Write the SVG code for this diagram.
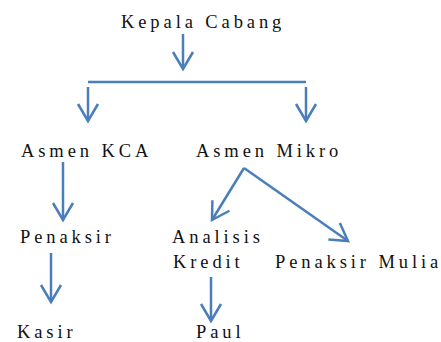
<svg xmlns="http://www.w3.org/2000/svg" width="441" height="342" viewBox="0 0 441 342">
<style>
  .lbl { font-family: "Liberation Serif", "Times New Roman", "DejaVu Serif", serif; font-size: 18.5px; letter-spacing: 3.9px; fill: #111; }
  .conn { stroke: #4A7EBB; stroke-width: 2.5; fill: none; }
</style>
<defs>
  <marker id="chev" markerUnits="userSpaceOnUse" markerWidth="40" markerHeight="40" viewBox="-20 -20 40 40" refX="0" refY="0" orient="auto" overflow="visible">
    <path d="M -17,-10 L 0,0 L -17,10" fill="none" stroke="#4A7EBB" stroke-width="2.5" stroke-linejoin="miter"/>
  </marker>
</defs>
<rect width="441" height="342" fill="#ffffff"/>
<g id="connectors">
  <line class="conn" x1="183" y1="34" x2="183" y2="69" marker-end="url(#chev)"/>
  <line class="conn" x1="88" y1="82" x2="306" y2="82"/>
  <line class="conn" x1="88" y1="87" x2="88" y2="121" marker-end="url(#chev)"/>
  <line class="conn" x1="306" y1="87" x2="306" y2="121" marker-end="url(#chev)"/>
  <line class="conn" x1="63" y1="162" x2="63" y2="220" marker-end="url(#chev)"/>
  <line class="conn" x1="244" y1="168" x2="212" y2="220" marker-end="url(#chev)"/>
  <line class="conn" x1="244" y1="168" x2="348" y2="241" marker-end="url(#chev)"/>
  <line class="conn" x1="51" y1="253" x2="51" y2="302" marker-end="url(#chev)"/>
  <line class="conn" x1="211" y1="277" x2="211" y2="321" marker-end="url(#chev)"/>
</g>
<g id="kepala-cabang"><text class="lbl" x="121" y="28">Kepala Cabang</text></g>
<g id="asmen-kca"><text class="lbl" x="21" y="157">Asmen KCA</text></g>
<g id="asmen-mikro"><text class="lbl" x="196" y="157">Asmen Mikro</text></g>
<g id="penaksir"><text class="lbl" x="20" y="243">Penaksir</text></g>
<g id="analisis-kredit"><text class="lbl" x="172" y="243">Analisis</text><text class="lbl" x="173" y="268">Kredit</text></g>
<g id="penaksir-mulia"><text class="lbl" x="275" y="268" letter-spacing="3.7">Penaksir Mulia</text></g>
<g id="kasir"><text class="lbl" x="17" y="338">Kasir</text></g>
<g id="paul"><text class="lbl" x="196" y="338">Paul</text></g>
</svg>
